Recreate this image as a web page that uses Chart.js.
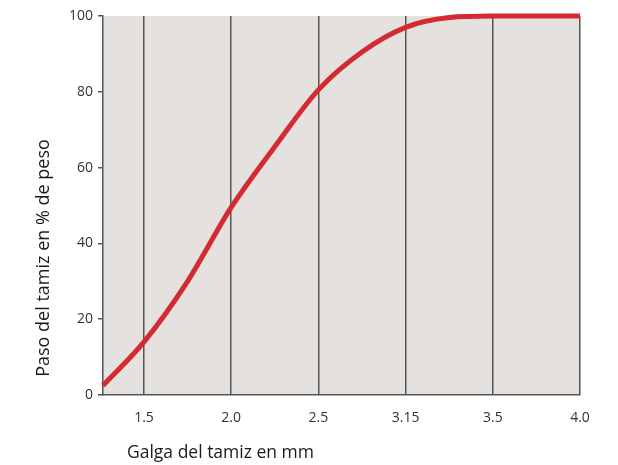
<!DOCTYPE html>
<html>
<head>
<meta charset="utf-8">
<script src="https://cdn.jsdelivr.net/npm/chart.js@4/dist/chart.umd.min.js"></script>
<style>
  html, body { margin: 0; padding: 0; background: #fff; }
  #wrap { width: 618px; height: 465px; position: relative; }
</style>
</head>
<body>
<div id="wrap"><canvas id="chart"></canvas></div>
<script>
// Sieve sizes shown on the x axis (evenly spaced positions 0..5)
const sieveLabels = ['1.5', '2.0', '2.5', '3.15', '3.5', '4.0'];
// Curve positions (axis index) and passing %
const curveX = [-0.47, 0, 0.5, 1, 1.5, 2, 2.5, 3, 3.5, 4, 5];
const curveY = [2.5, 14, 30, 49.5, 65.5, 80.5, 90.5, 97, 99.6, 100, 100];
const yTicks = [0, 20, 40, 60, 80, 100];

const xTitle = 'Galga del tamiz en mm';
const yTitle = 'Paso del tamiz en % de peso';

const FONT = '"Open Sans", "Noto Sans", sans-serif';

// plot background + axis titles drawn where the original puts them
const plotBg = {
    id: 'plotBg',
    beforeDraw(chart) {
        const { ctx, chartArea: a } = chart;
        ctx.save();
        ctx.fillStyle = '#e4e1df';
        ctx.fillRect(a.left, a.top, a.right - a.left, a.bottom - a.top);
        ctx.restore();
    },
    afterDraw(chart) {
        const { ctx } = chart;
        ctx.save();
        ctx.fillStyle = '#1a1a1a';
        ctx.textBaseline = 'middle';
        ctx.font = '17.5px ' + FONT;
        ctx.textAlign = 'left';
        ctx.fillText(xTitle, 127, 453);
        ctx.translate(44, 258);
        ctx.rotate(-Math.PI / 2);
        ctx.textAlign = 'center';
        ctx.font = '18px ' + FONT;
        ctx.fillText(yTitle, 0, 0);
        ctx.restore();
    }
};

new Chart(document.getElementById('chart'), {
    type: 'line',
    data: {
        datasets: [{
            data: curveX.map((x, i) => ({ x, y: curveY[i] })),
            borderColor: '#d42a32',
            borderWidth: 5,
            pointRadius: 0,
            fill: false,
            tension: 0.4,
            cubicInterpolationMode: 'monotone',
            clip: false
        }]
    },
    options: {
        responsive: true,
        maintainAspectRatio: false,
        animation: false,
        layout: { padding: { left: 0, right: 38, top: 16, bottom: 0 } },
        plugins: {
            legend: { display: false },
            tooltip: { enabled: false }
        },
        scales: {
            x: {
                type: 'linear',
                min: -0.47,
                max: 5,
                afterFit: (s) => { s.height = 70; },
                afterBuildTicks: (s) => { s.ticks = sieveLabels.map((_, i) => ({ value: i })); },
                border: { display: true, color: '#555', width: 1.5 },
                grid: { color: '#555', lineWidth: 1.5, drawTicks: false },
                ticks: {
                    padding: 15,
                    color: '#333',
                    font: { family: FONT, size: 14 },
                    callback: (v) => sieveLabels[v]
                }
            },
            y: {
                min: 0,
                max: 100,
                afterFit: (s) => { s.width = 103; },
                afterBuildTicks: (s) => { s.ticks = yTicks.map(v => ({ value: v })); },
                border: { display: true, color: '#555', width: 1.5 },
                grid: { drawOnChartArea: false, color: '#555', lineWidth: 1.5, tickLength: 5 },
                ticks: {
                    padding: 5,
                    color: '#333',
                    font: { family: FONT, size: 14 }
                }
            }
        }
    },
    plugins: [plotBg]
});
</script>
</body>
</html>
